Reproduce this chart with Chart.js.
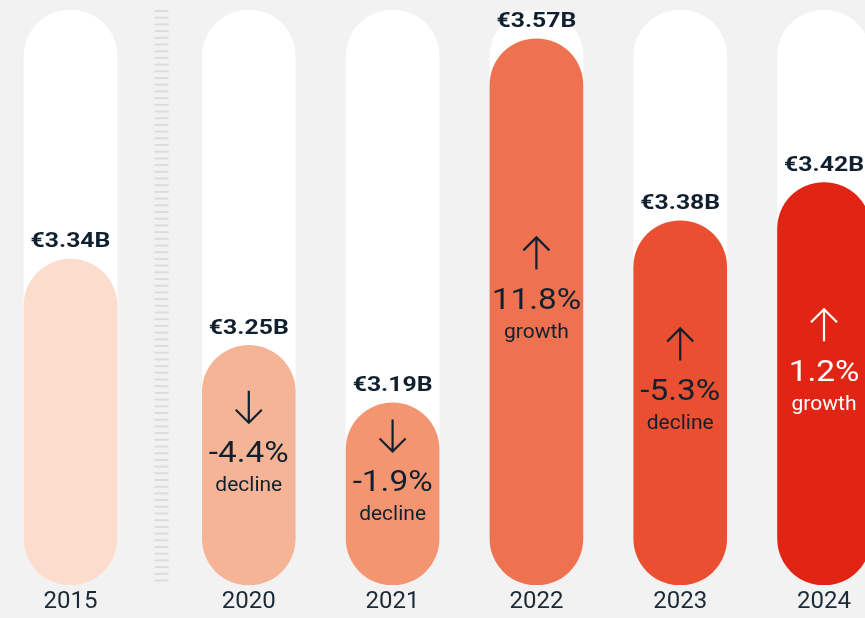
<!DOCTYPE html>
<html lang="en">
<head>
    <meta charset="UTF-8">
    <title>Revenue pills</title>
    <script src="https://cdn.jsdelivr.net/npm/chart.js"></script>
    <style>
        html, body { margin: 0; padding: 0; background: #f2f2f2; }
        #wrap { width: 865px; height: 618px; }
    </style>
</head>
<body>
    <div id="wrap"><canvas id="pills" width="865" height="618"></canvas></div>
    <script>
        // Data
        const years = ['2015', '2020', '2021', '2022', '2023', '2024'];
        const revenue = [3.34, 3.25, 3.19, 3.57, 3.38, 3.42]; // billions of euro
        const changePct = ['', '-4.4%', '-1.9%', '11.8%', '-5.3%', '1.2%'];
        const changeWord = ['', 'decline', 'decline', 'growth', 'decline', 'growth'];
        const arrowDir = [0, -1, -1, 1, 1, 1]; // 1 up, -1 down

        const barColors = ['#fcdccd', '#f6b496', '#f49572', '#ee7250', '#e94f30', '#e22415'];
        const textColors = ['#10202e', '#10202e', '#10202e', '#10202e', '#10202e', '#ffffff'];

        const yMin = 3.0, yMax = 3.6;
        const GAP = 0.24; // extra room after 2015 for the break marker
        const xPos = years.map((y, i) => i === 0 ? 0 : i + GAP);

        // text drawn a little wider than the font, like the original artwork
        function wideText(ctx, txt, x, y, sx) {
            ctx.save();
            ctx.translate(x, y);
            ctx.scale(sx, 1);
            ctx.fillText(txt, 0, 0);
            ctx.restore();
        }

        const labelPlugin = {
            id: 'pillLabels',
            beforeDatasetsDraw(chart) {
                // dashed break marker between 2015 and 2020
                const ctx = chart.ctx;
                const xs = chart.scales.x, ys = chart.scales.y;
                const mx = xs.getPixelForValue((xPos[0] + xPos[1]) / 2) + 2;
                const top = ys.getPixelForValue(yMax), bot = ys.getPixelForValue(yMin);
                ctx.save();
                ctx.fillStyle = '#dcdcdc';
                for (let y = top; y < bot - 2; y += 6.7) {
                    ctx.fillRect(mx - 7, y, 14, 2);
                }
                ctx.restore();
            },
            afterDatasetsDraw(chart) {
                const ctx = chart.ctx;
                const meta = chart.getDatasetMeta(1);
                ctx.save();
                ctx.textAlign = 'center';
                ctx.textBaseline = 'middle';
                meta.data.forEach((bar, i) => {
                    // value above the pill
                    ctx.fillStyle = '#10202e';
                    ctx.font = 'bold 21px Roboto';
                    wideText(ctx, '€' + revenue[i].toFixed(2) + 'B', bar.x, bar.y - 17, 1.18);

                    if (!changePct[i]) return;
                    const py = (bar.y + bar.base - 21) / 2;
                    ctx.fillStyle = textColors[i];
                    ctx.strokeStyle = textColors[i];
                    ctx.font = '29px Roboto';
                    wideText(ctx, changePct[i], bar.x, py, 1.15);
                    ctx.font = '21px Roboto';
                    ctx.fillText(changeWord[i], bar.x, py + 31);

                    // arrow
                    const ay = py - 48;
                    const d = arrowDir[i];
                    const tipY = ay - d * 16;
                    ctx.lineWidth = 2.2;
                    ctx.beginPath();
                    ctx.moveTo(bar.x, ay + d * 16);
                    ctx.lineTo(bar.x, tipY);
                    ctx.moveTo(bar.x - 13, tipY + d * 13);
                    ctx.lineTo(bar.x, tipY);
                    ctx.lineTo(bar.x + 13, tipY + d * 13);
                    ctx.stroke();
                });
                ctx.restore();
            }
        };

        new Chart(document.getElementById('pills'), {
            type: 'bar',
            data: {
                datasets: [
                    {
                        // white track behind each pill
                        data: xPos.map(x => ({ x: x, y: yMax })),
                        backgroundColor: '#ffffff',
                        order: 2
                    },
                    {
                        data: xPos.map((x, i) => ({ x: x, y: revenue[i] })),
                        backgroundColor: barColors,
                        order: 1
                    }
                ]
            },
            options: {
                responsive: false,
                animation: false,
                maintainAspectRatio: false,
                layout: { padding: { top: 10, left: 0, right: 0, bottom: 0 } },
                datasets: {
                    bar: {
                        grouped: false,
                        base: yMin,
                        barThickness: 93,
                        borderRadius: 100,
                        borderSkipped: false
                    }
                },
                scales: {
                    x: {
                        type: 'linear',
                        offset: false,
                        min: -0.49,
                        max: 5.525,
                        grid: { display: false, drawTicks: false },
                        border: { display: false },
                        afterBuildTicks: (axis) => {
                            axis.ticks = xPos.map(v => ({ value: v }));
                        },
                        afterFit: (axis) => { axis.height = 33; },
                        ticks: {
                            padding: 3,
                            color: '#1b2a38',
                            font: { family: 'Roboto', size: 24 },
                            autoSkip: false,
                            maxRotation: 0,
                            callback: (v, idx) => years[idx]
                        }
                    },
                    y: {
                        display: false,
                        min: yMin,
                        max: yMax
                    }
                },
                plugins: {
                    legend: { display: false },
                    tooltip: { enabled: false }
                }
            },
            plugins: [labelPlugin]
        });
    </script>
</body>
</html>
